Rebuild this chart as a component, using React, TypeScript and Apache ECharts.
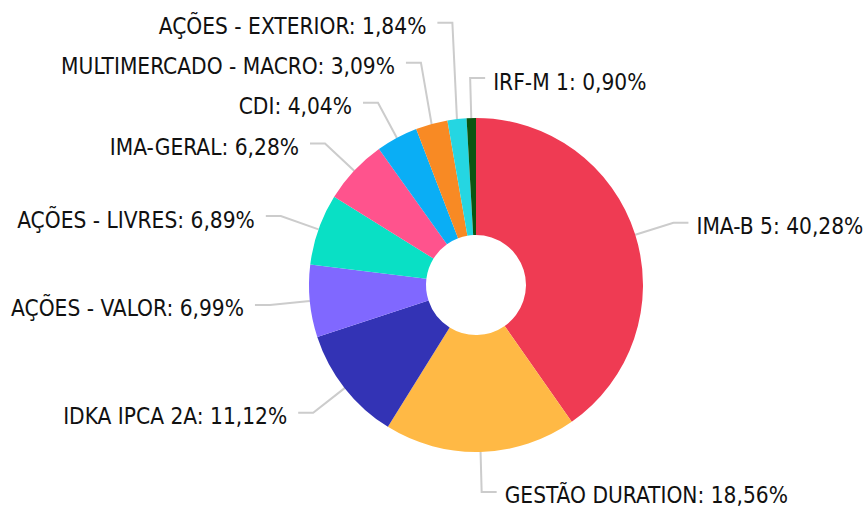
import React, { useEffect, useRef } from "react";
import * as echarts from "echarts";

const categories = [
  "IMA-B 5",
  "GESTÃO DURATION",
  "IDKA IPCA 2A",
  "AÇÕES - VALOR",
  "AÇÕES - LIVRES",
  "IMA-GERAL",
  "CDI",
  "MULTIMERCADO - MACRO",
  "AÇÕES - EXTERIOR",
  "IRF-M 1",
];
const values = [40.28, 18.56, 11.12, 6.99, 6.89, 6.28, 4.04, 3.09, 1.84, 0.9];
const colors = [
  "#EF3B53",
  "#FFB945",
  "#3333B5",
  "#8068FF",
  "#09E0C5",
  "#FF538D",
  "#0AAEF5",
  "#F88A24",
  "#25D6E2",
  "#0B5512",
];
// label drawn on the right side of the chart (mirrored leader line)
const flippedLabels = ["IRF-M 1"];

const CX = 476;
const CY = 285;
const R_IN = 50;
const R_OUT = 167;
const LEN1 = 40;
const LEN2 = 15;
const MIN_GAP = 40; // minimum vertical distance between stacked labels
const TEXT_DY = 3.5;
const GAP_LEFT = 11;
const GAP_RIGHT = 8;

const fmt = (p: any) =>
  `${p.name}: ${Number(p.value).toFixed(2).replace(".", ",")}%`;

function computeShifts() {
  const total = values.reduce((a, b) => a + b, 0);
  let acc = 0;
  const mids = values.map((v) => {
    const m = 90 - ((acc + v / 2) / total) * 360;
    acc += v;
    return (m * Math.PI) / 180;
  });
  const natY = mids.map((m) => CY - (R_OUT + LEN1) * Math.sin(m));
  const left = mids.map((m) => Math.cos(m) < 0);
  const adj = natY.slice();
  const sides = [true, false];
  sides.forEach((side) => {
    const idx = categories
      .map((_, i) => i)
      .filter((i) => left[i] === side && !flippedLabels.includes(categories[i]))
      .sort((a, b) => natY[b] - natY[a]);
    for (let k = 1; k < idx.length; k++) {
      adj[idx[k]] = Math.min(natY[idx[k]], adj[idx[k - 1]] - MIN_GAP);
    }
  });
  return { shift: adj.map((y, i) => y - natY[i]), left };
}

export default function App() {
  const ref = useRef<HTMLDivElement>(null);
  useEffect(() => {
    if (!ref.current) return;
    const chart = echarts.init(ref.current, undefined, { renderer: "svg" });
    const { shift, left } = computeShifts();
    const labelBase = {
      color: "#111",
      fontFamily: "DejaVu Sans Condensed",
      fontSize: 22.5,
      overflow: "none",
      distanceToLabelLine: 8,
      formatter: fmt,
    };
    const lineBase = {
      length: LEN1,
      length2: LEN2,
      lineStyle: { color: "#cccccc", width: 2 },
    };
    chart.setOption({
      animation: false,
      series: [
        {
          type: "pie",
          center: [CX, CY],
          radius: [R_IN, R_OUT],
          startAngle: 90,
          clockwise: true,
          avoidLabelOverlap: false,
          data: categories.map((name, i) => {
            const flip = flippedLabels.includes(name);
            return {
              name,
              value: values[i],
              itemStyle: { color: colors[i] },
              label: { show: !flip },
              labelLine: { show: !flip },
            };
          }),
          label: { show: true, ...labelBase },
          labelLine: { show: true, ...lineBase },
          emphasis: { disabled: true },
          labelLayout: (params: any) => {
            const pts = params.labelLinePoints;
            const i = params.dataIndex;
            if (!pts || pts.length < 3) return {};
            const y = pts[1][1] + shift[i];
            const isLeft = left[i];
            return {
              x: isLeft ? pts[2][0] - GAP_LEFT : pts[2][0] + GAP_RIGHT,
              y: y + TEXT_DY,
              align: isLeft ? "right" : "left",
              verticalAlign: "middle",
              labelLinePoints: [pts[0], [pts[1][0], y], [pts[2][0], y]],
            };
          },
        },
        {
          type: "pie",
          center: [CX, CY],
          radius: [R_IN, R_OUT],
          startAngle: 90,
          clockwise: true,
          silent: true,
          z: 3,
          avoidLabelOverlap: false,
          data: categories.map((name, i) => {
            const flip = flippedLabels.includes(name);
            return {
              name,
              value: values[i],
              itemStyle: { color: "rgba(0,0,0,0)" },
              label: { show: flip },
              labelLine: { show: flip },
            };
          }),
          label: { show: false, ...labelBase },
          labelLine: { show: false, ...lineBase },
          emphasis: { disabled: true },
          labelLayout: (params: any) => {
            const pts = params.labelLinePoints;
            if (!pts || pts.length < 3) return {};
            const p0 = pts[0];
            const p1 = pts[1];
            const len2 = Math.abs(pts[2][0] - p1[0]);
            const p2 = [p1[0] + len2, p1[1]];
            return {
              x: p2[0] + GAP_RIGHT,
              y: p1[1] + TEXT_DY,
              align: "left",
              verticalAlign: "middle",
              labelLinePoints: [p0, p1, p2],
            };
          },
        },
      ],
    });
    return () => chart.dispose();
  }, []);
  return (
    <div
      ref={ref}
      style={{ position: "absolute", left: 0, top: 0, width: 868, height: 507 }}
    />
  );
}
